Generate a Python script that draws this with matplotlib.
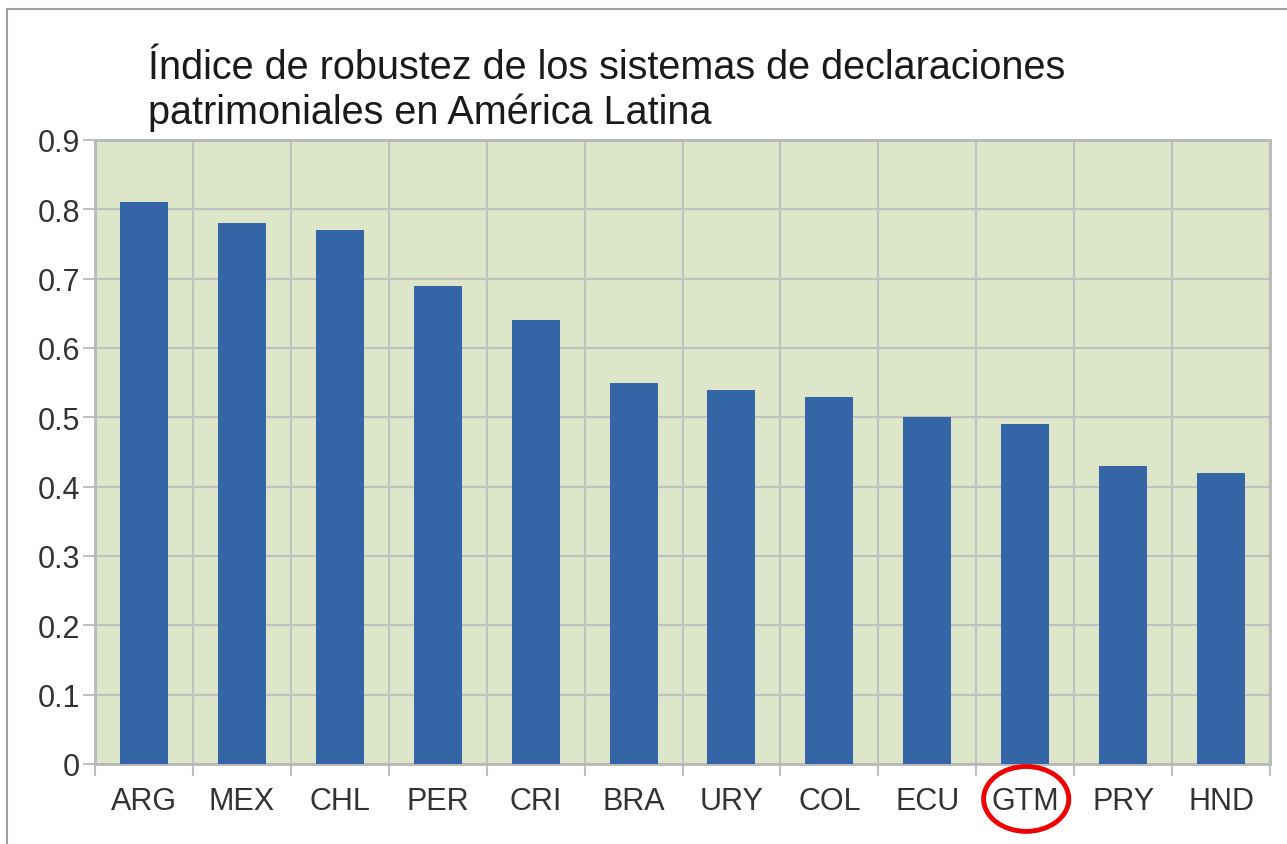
#!/usr/bin/env python3

import matplotlib
matplotlib.use('Agg')
import matplotlib.pyplot as plt
from matplotlib.patches import Ellipse, Rectangle
import matplotlib.transforms as mtransforms

# data
countries = ['ARG', 'MEX', 'CHL', 'PER', 'CRI', 'BRA', 'URY', 'COL', 'ECU', 'GTM', 'PRY', 'HND']
index_values = [0.81, 0.78, 0.77, 0.69, 0.64, 0.55, 0.54, 0.53, 0.50, 0.49, 0.43, 0.42]
y_ticks = [0, 0.1, 0.2, 0.3, 0.4, 0.5, 0.6, 0.7, 0.8, 0.9]
y_labels = ['0', '0.1', '0.2', '0.3', '0.4', '0.5', '0.6', '0.7', '0.8', '0.9']
highlight = 'GTM'
title_lines = ['Índice de robustez de los sistemas de declaraciones',
               'patrimoniales en América Latina']

plt.rcParams['font.family'] = ['Liberation Sans', 'DejaVu Sans']

W, H = 1287, 845
fig = plt.figure(figsize=(W / 100, H / 100), dpi=100)
fig.patch.set_facecolor('white')

# outer frame (cropped at right/bottom)
fig.patches.append(Rectangle((7 / W, -0.1), 1.2, (845 - 10) / H + 0.1,
                             transform=fig.transFigure, fill=False,
                             edgecolor='#a0a0a0', linewidth=1.5))

ax = fig.add_axes([95 / W, 80 / H, 1175 / W, 624 / H])
ax.set_facecolor('#dde6c9')

x = range(len(countries))
ax.bar(x, index_values, width=0.49, color='#3465a6', zorder=3)

ax.set_xlim(-0.5, len(countries) - 0.5)
ax.set_ylim(0, 0.9)

grid_c = '#c0c0c0'
ax.set_yticks(y_ticks)
ax.set_yticklabels(y_labels)
ax.set_xticks(list(x))
ax.set_xticklabels(countries)
ax.set_xticks([i - 0.5 for i in range(len(countries) + 1)], minor=True)

ax.tick_params(axis='x', which='major', length=0, pad=16, labelsize=22, labelcolor='#333333')
ax.tick_params(axis='x', which='minor', length=8.6, width=1.5, color=grid_c)
ax.tick_params(axis='y', length=8.6, width=1.5, color=grid_c, pad=2, labelsize=22, labelcolor='#333333')

ax.grid(axis='y', which='major', color=grid_c, linewidth=1.5, zorder=0)
ax.grid(axis='x', which='minor', color=grid_c, linewidth=1.5, zorder=0)
ax.set_axisbelow(True)

for s in ax.spines.values():
    s.set_color('#b8b8b8')
    s.set_linewidth(2)

# red circle around highlighted label
trans = mtransforms.blended_transform_factory(ax.transData, ax.transAxes)
ell = Ellipse((countries.index(highlight) + 0.01, -0.056), 0.87, 0.104,
              transform=trans, fill=False, edgecolor='#ee0000', linewidth=3.5,
              clip_on=False, zorder=5)
ax.add_patch(ell)

# title, two lines placed on their baselines
for line, base in zip(title_lines, [79, 124]):
    fig.text(148 / W, (H - base) / H, line, ha='left', va='baseline',
             fontsize=28.5, color='#1a1a1a')

fig.savefig('out.png', dpi=100)
